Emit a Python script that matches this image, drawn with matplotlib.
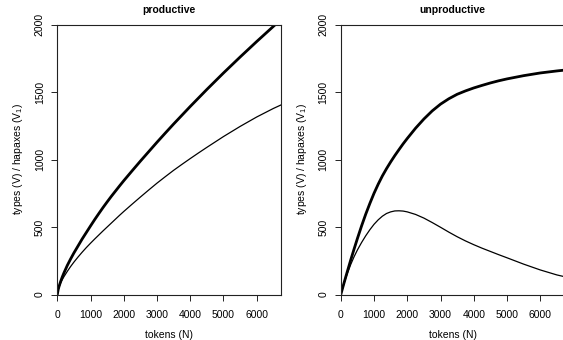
import matplotlib
matplotlib.use("Agg")
import matplotlib.pyplot as plt

plt.rcParams['font.family'] = ['Liberation Sans', 'DejaVu Sans']
plt.rcParams['mathtext.fontset'] = 'custom'
plt.rcParams['mathtext.rm'] = 'Liberation Sans'
plt.rcParams['mathtext.it'] = 'Liberation Sans'

# Growth curves: number of tokens N against types V and hapaxes V1
tokens = [0, 25, 50, 100, 150, 200, 300, 400, 500, 625, 750, 875, 1000, 1125,
          1250, 1375, 1500, 1625, 1750, 1875, 2000, 2250, 2500, 2750, 3000,
          3250, 3500, 3750, 4000, 4250, 4500, 4750, 5000, 5500, 6000, 6500, 6800]

prod_types = [0, 35, 58, 96, 130, 160, 215, 263, 308, 360, 412, 460, 508, 555,
              600, 644, 686, 727, 766, 805, 843, 916, 988, 1058, 1128,
              1196, 1263, 1328, 1393, 1456, 1519, 1580, 1641, 1759, 1874, 1986, 2052]
prod_hapax = [0, 33, 54, 85, 110, 132, 171, 207, 240, 278, 314, 348, 380, 411,
              441, 471, 500, 529, 558, 587, 615, 669, 722, 774, 825,
              873, 920, 964, 1007, 1049, 1090, 1130, 1170, 1245, 1315, 1378, 1412]

unprod_types = [0, 22, 44, 88, 131, 173, 257, 337, 415, 508, 595, 675, 750, 817,
                878, 932, 982, 1029, 1073, 1116, 1156, 1232, 1300, 1360, 1410,
                1450, 1483, 1508, 1530, 1549, 1567, 1583, 1597, 1621, 1641, 1656, 1664]
unprod_hapax = [0, 22, 43, 84, 122, 158, 223, 280, 330, 385, 435, 480, 520, 553,
                580, 600, 612, 619, 620, 618, 612, 593, 566, 533, 498,
                462, 428, 397, 369, 343, 319, 295, 272, 225, 182, 145, 128]

panel_titles = ["productive", "unproductive"]
x_ticks = [0, 1000, 2000, 3000, 4000, 5000, 6000]
y_ticks = [0, 500, 1000, 1500, 2000]

W, H = 563, 340
fig = plt.figure(figsize=(W / 100, H / 100), dpi=100)

ax_w = 223.7 / W
ax_h = 270 / H
bottom = (H - 294.5) / H
lefts = [57.3 / W, 340.8 / W]
series = [(prod_types, prod_hapax), (unprod_types, unprod_hapax)]

for left, title, (types, hapax) in zip(lefts, panel_titles, series):
    ax = fig.add_axes([left, bottom, ax_w, ax_h])
    ax.plot(tokens, types, color='black', lw=2.0, solid_joinstyle='round')
    ax.plot(tokens, hapax, color='black', lw=0.9, solid_joinstyle='round')
    ax.set_xlim(0, 6730)
    ax.set_ylim(0, 2000)
    ax.set_xticks(x_ticks)
    ax.set_yticks(y_ticks)
    ax.set_xticklabels([str(t) for t in x_ticks], fontsize=7.5)
    ax.set_yticklabels([str(t) for t in y_ticks], fontsize=7.5, rotation=90, va='center')
    ax.tick_params(direction='out', length=4, width=0.7, color='#222222')
    ax.tick_params(axis='x', pad=7)
    ax.tick_params(axis='y', pad=5)
    for s in ax.spines.values():
        s.set_linewidth(0.8)
        s.set_color('#222222')
    ax.set_title(title, fontsize=7.5, fontweight='bold', pad=8)
    ax.set_xlabel("tokens (N)", fontsize=7.5, labelpad=7)
    ax.set_ylabel(r"types (V) / hapaxes (V$_1$)", fontsize=7.5, labelpad=7)

fig.savefig("out.png", dpi=100)
